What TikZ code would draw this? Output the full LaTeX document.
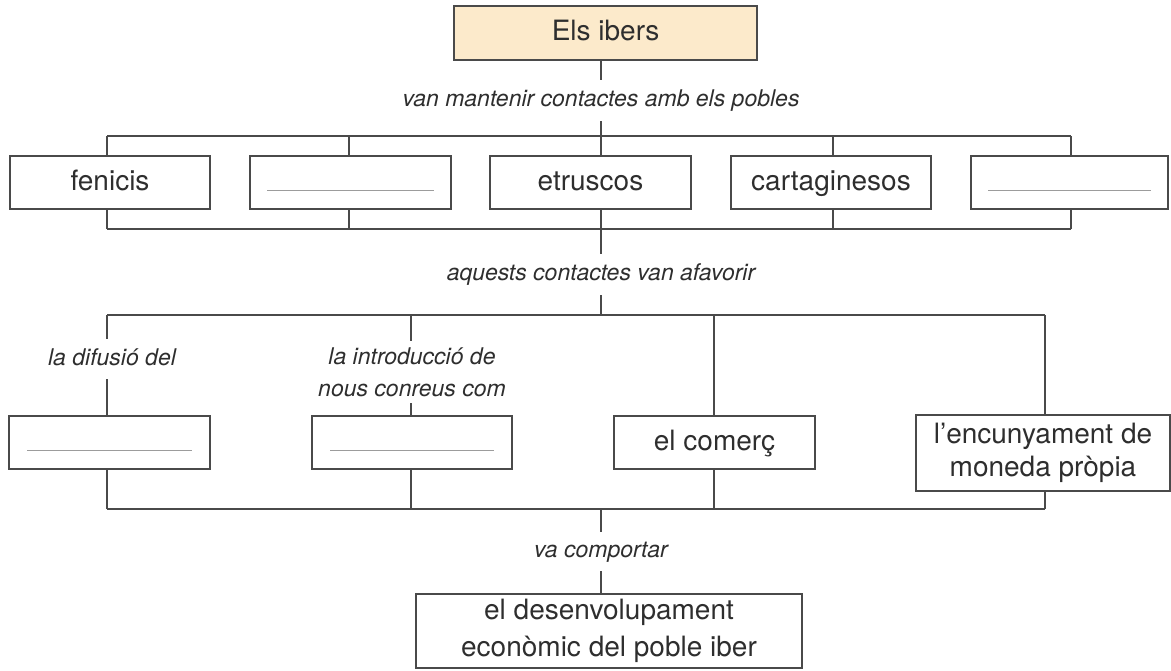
\documentclass[tikz,border=0pt]{standalone}
\usepackage{fontspec}
\setmainfont{TeX Gyre Heros}
\usepackage{tikz}
\usetikzlibrary{calc,positioning}
\definecolor{linex}{HTML}{4A4A4A}
\definecolor{textx}{HTML}{2E2E2E}
\definecolor{peach}{HTML}{FCEACB}
\definecolor{blankx}{HTML}{9C9C9C}
\tikzset{
  box/.style={draw=linex,line width=1.3pt,text=textx,align=center,inner sep=0pt,minimum height=53pt,text height=20pt,text depth=5pt,font=\fontsize{28}{33}\selectfont},
  twoline/.style={text height=,text depth=},
  lbl/.style={text=textx,inner sep=0pt,align=center,text height=16pt,text depth=4pt,font=\fontsize{23}{32}\selectfont\itshape},
  ln/.style={linex,line width=1.3pt},
  blk/.style={blankx,line width=1.5pt}
}

\begin{document}
\begin{tikzpicture}[x=1pt,y=-1pt]
\useasboundingbox (0,0) rectangle (1171,670);
\node[box,fill=peach,minimum width=303pt,minimum height=54pt] (ibers) at (605.5,33) {Els ibers};
\node[lbl,minimum height=41pt] (pobles) at (601,100.5) {van mantenir contactes amb els pobles};
\draw[ln] (ibers.south -| pobles) -- (pobles.north);

\node[box,minimum width=200pt] (fen) at (110,182.5) {fenicis};
\node[box,minimum width=201pt] (buit1) at (350.5,182.5) {};
\node[box,minimum width=201pt] (etr) at (590.5,182.5) {etruscos};
\node[box,minimum width=200pt] (cart) at (831,182.5) {cartaginesos};
\node[box,minimum width=197pt] (buit2) at (1069.5,182.5) {};
\draw[blk] ([xshift=18pt,yshift=-8pt]buit1.west) -- ([xshift=-18pt,yshift=-8pt]buit1.east);
\draw[blk] ([xshift=18pt,yshift=-8pt]buit2.west) -- ([xshift=-18pt,yshift=-8pt]buit2.east);

\coordinate (t1) at (107,136);
\coordinate (t2) at (349,136);
\coordinate (t3) at (601,136);
\coordinate (t4) at (833,136);
\coordinate (t5) at (1071,136);
\coordinate (s1) at (107,229);
\coordinate (s2) at (349,229);
\coordinate (s3) at (601,229);
\coordinate (s4) at (833,229);
\coordinate (s5) at (1071,229);
\draw[ln] (t1) -- (t5);
\draw[ln] (s1) -- (s5);
\foreach \i/\b in {1/fen,2/buit1,3/etr,4/cart,5/buit2}{
  \draw[ln] (t\i) -- (t\i |- \b.north);
  \draw[ln] (t\i |- \b.south) -- (s\i);
}
\draw[ln] (pobles.south) -- (t3);

\node[lbl,minimum height=41pt] (afav) at (601,274.5) {aquests contactes van afavorir};
\draw[ln] (s3) -- (afav.north);
\coordinate (m1) at (107,315);
\coordinate (m2) at (411,315);
\coordinate (m3) at (714,315);
\coordinate (m4) at (1045,315);
\draw[ln] (m1) -- (m4);
\draw[ln] (afav.south) -- (afav.south |- m1);

\node[lbl,minimum height=40pt] (difus) at (112,359) {la difusió del};
\node[lbl,twoline,minimum height=62pt] (introd) at (412,372) {la introducció de\\nous conreus com};
\node[box,minimum width=201pt] (buit3) at (109.5,442.5) {};
\node[box,minimum width=200pt] (buit4) at (412,442.5) {};
\node[box,minimum width=201pt] (comerc) at (714.5,442.5) {el comerç};
\node[box,twoline,minimum width=254pt,minimum height=76pt] (encuny) at (1043,453) {l’encunyament de\\moneda pròpia};
\draw[blk] ([xshift=19pt,yshift=-8pt]buit3.west) -- ([xshift=-19pt,yshift=-8pt]buit3.east);
\draw[blk] ([xshift=19pt,yshift=-8pt]buit4.west) -- ([xshift=-19pt,yshift=-8pt]buit4.east);

\draw[ln] (m1) -- (m1 |- difus.north) (m1 |- difus.south) -- (m1 |- buit3.north);
\draw[ln] (m2) -- (m2 |- introd.north) (m2 |- introd.south) -- (m2 |- buit4.north);
\draw[ln] (m3) -- (m3 |- comerc.north);
\draw[ln] (m4) -- (m4 |- encuny.north);

\coordinate (n1) at (107,509);
\coordinate (n2) at (411,509);
\coordinate (n3) at (714,509);
\coordinate (n4) at (1045,509);
\draw[ln] (n1) -- (n4);
\foreach \i/\b in {1/buit3,2/buit4,3/comerc,4/encuny}
  \draw[ln] (m\i |- \b.south) -- (n\i);

\node[lbl,minimum height=39pt] (comport) at (601,551.5) {va comportar};
\draw[ln] (comport.north |- n1) -- (comport.north);
\node[box,twoline,minimum width=386pt,minimum height=74pt,font=\fontsize{28}{37}\selectfont] (desenv) at (609,631) {el desenvolupament\\econòmic del poble iber};
\draw[ln] (comport.south) -- (comport.south |- desenv.north);
\end{tikzpicture}
\end{document}
